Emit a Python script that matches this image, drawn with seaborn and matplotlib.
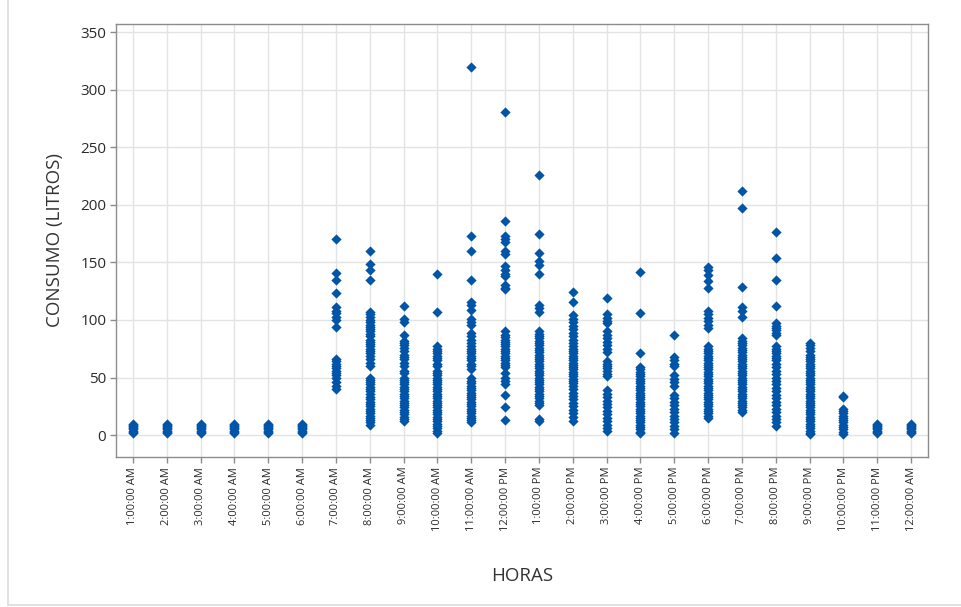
import matplotlib
matplotlib.use("Agg")
import matplotlib.pyplot as plt
from matplotlib.lines import Line2D
import pandas as pd
import seaborn as sns

# Hour labels (categories on the x axis)
horas = ["1:00:00 AM", "2:00:00 AM", "3:00:00 AM", "4:00:00 AM", "5:00:00 AM",
         "6:00:00 AM", "7:00:00 AM", "8:00:00 AM", "9:00:00 AM", "10:00:00 AM",
         "11:00:00 AM", "12:00:00 PM", "1:00:00 PM", "2:00:00 PM", "3:00:00 PM",
         "4:00:00 PM", "5:00:00 PM", "6:00:00 PM", "7:00:00 PM", "8:00:00 PM",
         "9:00:00 PM", "10:00:00 PM", "11:00:00 PM", "12:00:00 AM"]

# Water consumption (litres) recorded at each hour
h01 = [10, 9, 8, 7, 6, 5, 4, 3, 2]
h02 = [10, 9, 8, 7, 6, 5, 4, 3, 2]
h03 = [10, 9, 8, 7, 6, 5, 4, 3, 2]
h04 = [10, 9, 8, 7, 6, 5, 4, 3, 2]
h05 = [10, 9, 8, 7, 6, 5, 4, 3, 2]
h06 = [10, 9, 8, 7, 6, 5, 4, 3, 2]
h07 = [170, 141, 135, 123, 111, 108, 106, 103, 100, 94, 66, 64, 62, 60, 58,
       56, 54, 52, 50, 46, 43, 40]
h08 = [160, 149, 143, 135, 107, 105, 103, 100, 98, 96, 94, 92, 90, 88, 86, 83,
       81, 79, 77, 75, 73, 71, 69, 66, 63, 60, 50, 48, 46, 44, 42, 40, 38, 36,
       33, 31, 29, 27, 25, 23, 21, 19, 17, 15, 13, 11, 9]
h09 = [112, 101, 98, 87, 82, 80, 78, 76, 73, 70, 68, 66, 63, 60, 56, 54, 50,
       48, 46, 44, 42, 40, 38, 36, 34, 32, 30, 28, 26, 24, 22, 20, 18, 16, 14, 12]
h10 = [140, 107, 77, 75, 73, 71, 69, 67, 65, 62, 60, 56, 54, 52, 50, 48, 46, 44,
       42, 40, 38, 36, 34, 32, 30, 28, 26, 24, 22, 20, 18, 16, 14, 12, 10, 8, 6,
       4, 2]
h11 = [320, 173, 160, 135, 116, 113, 109, 101, 98, 96, 89, 86, 83, 80, 77, 75,
       73, 71, 69, 67, 65, 62, 60, 57, 50, 47, 45, 43, 41, 39, 37, 35, 33, 31,
       29, 27, 25, 23, 21, 19, 17, 15, 13, 11]
h12 = [281, 186, 173, 170, 168, 160, 157, 147, 143, 140, 138, 130, 128, 127, 90,
       87, 85, 83, 81, 79, 77, 75, 73, 71, 69, 67, 65, 63, 61, 59, 54, 50, 47,
       44, 35, 24, 13]
h13 = [226, 175, 158, 151, 148, 140, 113, 110, 107, 90, 88, 86, 84, 82, 80, 78,
       76, 74, 72, 70, 68, 66, 64, 62, 60, 58, 56, 54, 52, 50, 48, 46, 44, 42,
       40, 38, 36, 34, 32, 30, 28, 26, 14, 12]
h14 = [124, 116, 104, 101, 98, 95, 92, 89, 86, 83, 80, 77, 75, 73, 71, 69, 67,
       65, 63, 61, 59, 57, 55, 53, 51, 49, 47, 45, 43, 40, 37, 34, 31, 28, 25,
       22, 19, 16, 12]
h15 = [119, 105, 102, 99, 97, 90, 87, 84, 81, 78, 75, 72, 64, 62, 60, 58, 56,
       53, 51, 39, 36, 33, 30, 27, 24, 21, 18, 15, 12, 9, 6, 4]
h16 = [142, 106, 71, 59, 57, 55, 53, 51, 49, 47, 45, 43, 41, 39, 37, 35, 33, 31,
       29, 27, 25, 23, 21, 19, 17, 15, 13, 11, 9, 7, 5, 3, 2]
h17 = [87, 68, 65, 62, 60, 52, 49, 46, 43, 35, 32, 29, 26, 23, 20, 17, 14, 11,
       8, 5, 2]
h18 = [146, 143, 139, 134, 128, 108, 105, 102, 99, 96, 93, 77, 75, 73, 71, 69,
       67, 65, 63, 61, 59, 57, 55, 53, 51, 49, 47, 45, 43, 41, 39, 37, 35, 33,
       31, 29, 27, 25, 23, 21, 19, 17, 15]
h19 = [212, 197, 129, 111, 108, 103, 84, 82, 80, 78, 76, 74, 72, 70, 68, 66, 64,
       62, 60, 58, 56, 54, 52, 50, 48, 46, 44, 42, 40, 38, 36, 34, 32, 30, 28,
       26, 24, 22, 20]
h20 = [176, 154, 135, 112, 97, 95, 93, 91, 89, 87, 77, 75, 73, 71, 69, 67, 65,
       62, 59, 56, 53, 50, 47, 44, 41, 38, 35, 32, 29, 26, 23, 20, 17, 14, 11, 8]
h21 = [80, 78, 76, 73, 70, 68, 66, 64, 62, 60, 58, 56, 54, 52, 50, 48, 46, 44,
       42, 40, 38, 36, 34, 32, 30, 28, 26, 24, 22, 20, 18, 16, 14, 12, 10, 8, 6,
       4, 2, 1]
h22 = [34, 33, 23, 21, 19, 17, 15, 13, 11, 9, 7, 5, 3, 1]
h23 = [10, 9, 8, 7, 6, 5, 4, 3, 2]
h24 = [10, 9, 8, 7, 6, 5, 4, 3, 2]

yticks = [0, 50, 100, 150, 200, 250, 300, 350]

series = [h01, h02, h03, h04, h05, h06, h07, h08, h09, h10, h11, h12,
          h13, h14, h15, h16, h17, h18, h19, h20, h21, h22, h23, h24]
df = pd.DataFrame({
    "hora": [h for h, vals in zip(horas, series) for _ in vals],
    "consumo": [v for vals in series for v in vals],
})

sns.set_style("white")
plt.rcParams["font.family"] = ["Open Sans", "DejaVu Sans"]

fig = plt.figure(figsize=(9.61, 6.07), dpi=100)
ax = fig.add_axes([0.1207, 0.2471, 0.8450, 0.7134])

sns.stripplot(data=df, x="hora", y="consumo", order=horas, jitter=False,
              marker="D", size=5.2, color="#0055A8", linewidth=0, ax=ax,
              zorder=3)

ax.set_xlim(-0.5, 23.5)
ax.set_ylim(-19, 357)
ax.set_yticks(yticks)
ax.set_yticklabels([str(t) for t in yticks])
ax.set_xticks(range(len(horas)))
ax.set_xticklabels(horas, rotation=90, fontsize=8, color="#2b2b2b")

ax.grid(True, color="#e3e3e3", linewidth=1.0, zorder=0)
ax.set_axisbelow(True)
for sp in ax.spines.values():
    sp.set_color("#8c8c8c")
    sp.set_linewidth(1.0)

ax.tick_params(axis="y", labelsize=11, colors="#2b2b2b", length=4,
               width=1, direction="out", left=True, pad=3)
ax.tick_params(axis="x", length=4, width=1, direction="out", bottom=True,
               pad=3, colors="#2b2b2b")
ax.tick_params(axis="both", color="#8c8c8c")

ax.set_ylabel("CONSUMO (LITROS)", fontsize=13.5, color="#333333")
ax.set_xlabel("HORAS", fontsize=13.5, color="#333333")
ax.yaxis.set_label_coords(-0.064, 0.5)
ax.xaxis.set_label_coords(0.5, -0.255)

# Light frame at the left and bottom of the figure
fig.add_artist(Line2D([7.5 / 961, 7.5 / 961], [1, 2.5 / 607],
                      transform=fig.transFigure, color="#dcdcdc", lw=1.2))
fig.add_artist(Line2D([7.5 / 961, 1], [2.5 / 607, 2.5 / 607],
                      transform=fig.transFigure, color="#dcdcdc", lw=1.2))

fig.savefig("out.png", dpi=100)
